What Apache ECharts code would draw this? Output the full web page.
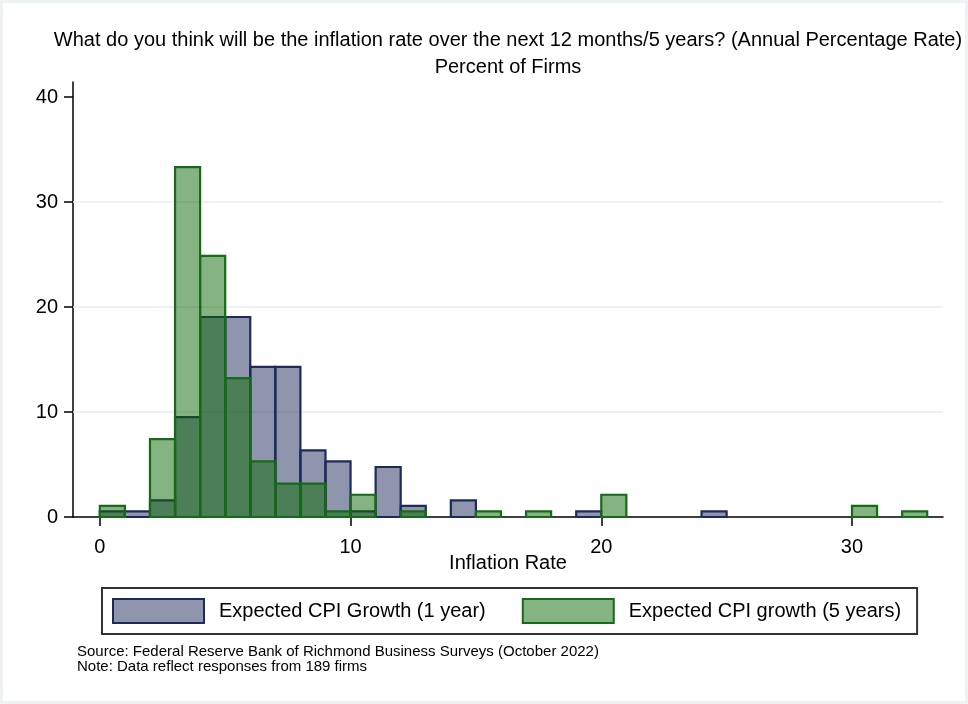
<!DOCTYPE html>
<html>
<head>
<meta charset="utf-8">
<script src="https://cdn.jsdelivr.net/npm/echarts@6/dist/echarts.min.js"></script>
<style>
  html, body { margin: 0; padding: 0; background: #fff; }
  #chart { width: 968px; height: 704px; background: #fff; box-shadow: inset 0 0 0 3px #edf2f4; }
</style>
</head>
<body>
<div id="chart"></div>
<script>
// histogram bins (lower edges), width 1 percentage point
var binStarts = [0, 1, 2, 3, 4, 5, 6, 7, 8, 9, 10, 11, 12, 13, 14, 15, 16,
  17, 18, 19, 20, 21, 22, 23, 24, 25, 26, 27, 28, 29, 30, 31, 32];
var binWidth = 1;
// percent of firms in each bin
var oneYear = [0.53, 0.53, 1.59, 9.52, 19.05, 19.05, 14.29, 14.29, 6.35, 5.29, 0.53, 4.76, 1.06, 0, 1.59, 0, 0,
  0, 0, 0.53, 0, 0, 0, 0, 0.53, 0, 0, 0, 0, 0, 0, 0, 0];
var fiveYear = [1.06, 0, 7.41, 33.33, 24.87, 13.23, 5.29, 3.17, 3.17, 0.53, 2.12, 0, 0.53, 0, 0, 0.53, 0,
  0.53, 0, 0, 2.12, 0, 0, 0, 0, 0, 0, 0, 0, 0, 1.06, 0, 0.53];
var xTicks = [0, 10, 20, 30];
var yTicks = [0, 10, 20, 30, 40];
var gridValues = [10, 20, 30];

var seriesNames = ['Expected CPI Growth (1 year)', 'Expected CPI growth (5 years)'];

function toBins(vals) {
  var out = [];
  for (var i = 0; i < binStarts.length; i++) {
    if (vals[i] > 0) out.push([binStarts[i], binStarts[i] + binWidth, vals[i]]);
  }
  return out;
}

function makeRender(fill, stroke) {
  return function (params, api) {
    var p0 = api.coord([api.value(0), 0]);
    var p1 = api.coord([api.value(1), api.value(2)]);
    return {
      type: 'rect',
      shape: { x: p0[0], y: p1[1], width: p1[0] - p0[0], height: p0[1] - p1[1] },
      style: { fill: fill, stroke: stroke, lineWidth: 2.2 }
    };
  };
}

var font = 'Liberation Sans, Arial, sans-serif';
var blueFill = 'rgba(29,43,89,0.5)', blueLine = '#1c2b5a';
var greenFill = 'rgba(12,104,4,0.5)', greenLine = '#176a17';

var myChart = echarts.init(document.getElementById('chart'));
var option = {
  animation: false,
  title: {
    text: 'What do you think will be the inflation rate over the next 12 months/5 years? (Annual Percentage Rate)',
    subtext: 'Percent of Firms',
    left: 508,
    textAlign: 'center',
    top: 30,
    itemGap: 7,
    padding: 0,
    textStyle: { fontFamily: font, fontSize: 20, fontWeight: 'normal', color: '#000', lineHeight: 20 },
    subtextStyle: { fontFamily: font, fontSize: 20, color: '#000', lineHeight: 20 }
  },
  legend: {
    data: seriesNames,
    left: 102,
    top: 588,
    orient: 'horizontal',
    icon: 'rect',
    itemWidth: 91,
    itemHeight: 24,
    itemGap: 36,
    padding: [10, 16, 10, 10],
    borderColor: '#333',
    borderWidth: 2,
    borderRadius: 0,
    backgroundColor: '#fff',
    selectedMode: false,
    textStyle: { fontFamily: font, fontSize: 20, color: '#000', padding: [0, 0, 0, 10] }
  },
  grid: { left: 73, right: 25, top: 82, bottom: 187, containLabel: false },
  xAxis: {
    type: 'value',
    min: -1.07,
    max: 33.63,
    name: 'Inflation Rate',
    nameLocation: 'middle',
    nameGap: 36,
    nameMoveOverlap: false,
    nameTextStyle: { fontFamily: font, fontSize: 20, color: '#000' },
    axisLine: { show: true, onZero: false, lineStyle: { color: '#000', width: 1.5 } },
    axisTick: { show: true, length: 9, customValues: xTicks, lineStyle: { color: '#000', width: 1.5 } },
    axisLabel: { customValues: xTicks, margin: 20, fontFamily: font, fontSize: 20, color: '#000' },
    splitLine: { show: false }
  },
  yAxis: {
    type: 'value',
    min: 0,
    max: 41.43,
    axisLine: { show: true, onZero: false, lineStyle: { color: '#000', width: 1.5 } },
    axisTick: { show: true, length: 9, customValues: yTicks, lineStyle: { color: '#000', width: 1.5 } },
    axisLabel: { customValues: yTicks, margin: 15, fontFamily: font, fontSize: 20, color: '#000' },
    splitLine: { show: false }
  },
  series: [
    {
      name: 'grid',
      type: 'line',
      data: [],
      z: 1,
      silent: true,
      markLine: {
        z: 1,
        silent: true,
        symbol: ['none', 'none'],
        label: { show: false },
        emphasis: { disabled: true },
        lineStyle: { color: '#e6eded', width: 1.5, type: 'solid' },
        data: gridValues.map(function (v) { return { yAxis: v }; })
      }
    },
    {
      name: seriesNames[0],
      type: 'custom',
      z: 2,
      itemStyle: { color: blueFill, borderColor: blueLine, borderWidth: 2 },
      renderItem: makeRender(blueFill, blueLine),
      encode: { x: [0, 1], y: 2 },
      data: toBins(oneYear)
    },
    {
      name: seriesNames[1],
      type: 'custom',
      z: 3,
      itemStyle: { color: greenFill, borderColor: greenLine, borderWidth: 2 },
      renderItem: makeRender(greenFill, greenLine),
      encode: { x: [0, 1], y: 2 },
      data: toBins(fiveYear)
    }
  ],
  graphic: [{
    type: 'text',
    left: 77,
    top: 644,
    style: {
      text: 'Source: Federal Reserve Bank of Richmond Business Surveys (October 2022)\nNote: Data reflect responses from 189 firms',
      font: '15px Liberation Sans, Arial, sans-serif',
      lineHeight: 15,
      fill: '#000'
    }
  }]
};
myChart.setOption(option);
</script>
</body>
</html>
